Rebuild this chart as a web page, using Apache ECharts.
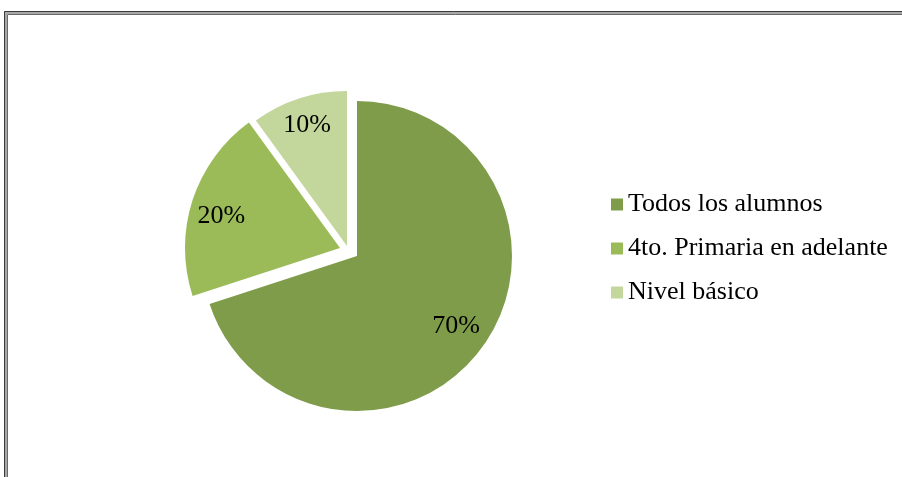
<!DOCTYPE html>
<html>
<head>
<meta charset="utf-8">
<script src="https://cdn.jsdelivr.net/npm/echarts@6/dist/echarts.min.js"></script>
<style>
html,body{margin:0;padding:0;background:#fff;}
#chart{width:902px;height:477px;}
</style>
</head>
<body>
<div id="chart"></div>
<script>
const categories = ['Todos los alumnos', '4to. Primaria en adelante', 'Nivel básico'];
const values = [70, 20, 10];
const colors = ['#7f9c4a', '#9bbb59', '#c3d69b'];

// per-slice drawing centre (exploded slices) and label nudges
const centers = [[357, 256], [340, 248], [347, 246]];
const labelShift = [[34, 23], [-42, -7], [-15, -44]];

const chart = echarts.init(document.getElementById('chart'));

const series = categories.map((_, k) => ({
  type: 'pie',
  center: centers[k],
  radius: 155,
  startAngle: 90,
  clockwise: true,
  avoidLabelOverlap: false,
  silent: true,
  emphasis: { disabled: true, scale: false },
  labelLine: { show: false },
  labelLayout: { dx: labelShift[k][0], dy: labelShift[k][1] },
  data: categories.map((name, i) => ({
    name: name,
    value: values[i],
    itemStyle: i === k ? { color: colors[i], opacity: 1 } : { color: colors[i], opacity: 0 },
    label: {
      show: i === k,
      position: 'inside',
      formatter: '{c}%',
      color: '#000',
      fontFamily: 'Liberation Serif',
      fontSize: 26
    }
  }))
}));

chart.setOption({
  backgroundColor: '#ffffff',
  animation: false,
  graphic: [
    { type: 'rect', shape: { x: 5.5, y: 12.5, width: 2000, height: 2000 }, style: { fill: 'none', stroke: '#a8a8a8', lineWidth: 3 } },
    { type: 'rect', shape: { x: 4.5, y: 11.5, width: 2000, height: 2000 }, style: { fill: 'none', stroke: '#3a3a3a', lineWidth: 1 } },
    { type: 'rect', shape: { x: 7.5, y: 14.5, width: 2000, height: 2000 }, style: { fill: 'none', stroke: '#6a6a6a', lineWidth: 1 } }
  ],
  legend: {
    orient: 'vertical',
    left: 606,
    top: 186,
    itemWidth: 12,
    itemHeight: 12,
    itemGap: 17,
    icon: 'rect',
    selectedMode: false,
    textStyle: { fontFamily: 'Liberation Serif', fontSize: 26, color: '#000', lineHeight: 27 },
    data: categories.map((n, i) => ({ name: n, itemStyle: { color: colors[i], opacity: 1 } }))
  },
  series: series
});
</script>
</body>
</html>
